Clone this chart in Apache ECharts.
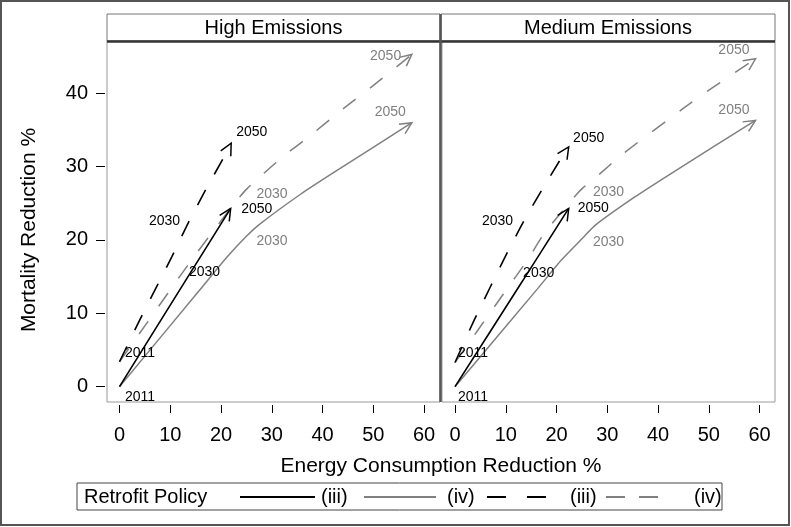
<!DOCTYPE html>
<html>
<head>
<meta charset="utf-8">
<script src="https://cdn.jsdelivr.net/npm/echarts@6/dist/echarts.min.js"></script>
<style>
  html, body { margin: 0; padding: 0; background: #fff; }
  #chart { width: 791px; height: 527px; }
</style>
</head>
<body>
<div id="chart"></div>
<script>
// ---- data: [energy reduction %, mortality reduction %] ----
var panelTitles = ['High Emissions', 'Medium Emissions'];
var years = ['2011', '2030', '2050'];
var xTicks = [0, 10, 20, 30, 40, 50, 60];
var yTicks = [0, 10, 20, 30, 40];
var legendLabels = ['(iii)', '(iv)', '(iii)', '(iv)'];

var highSolidIii = [[0, 0], [13.5, 15.0], [21.9, 24.3]];
var highSolidIv = [[0, 0], [15.6, 13.0], [21.1, 17.6], [25, 20.5], [27.7, 22.2], [35.6, 26.2], [42, 29.1], [57.6, 36.0]];
var highDashIii = [[0, 3.4], [4, 9.1], [10.3, 17.7], [13.6, 22.4], [17.1, 27.0], [20.5, 31.2], [22, 33.2]];
var highDashIv = [[0, 3.4], [5.1, 8.4], [13.5, 16.6], [18, 20.8], [23.1, 25.4], [25, 26.9], [27, 28.2], [32.6, 31.6], [36.8, 33.8], [43.9, 37.8], [49.9, 41.0], [57.6, 45.3]];

var medSolidIii = [[0, 0], [13.3, 14.4], [22.4, 24.3]];
var medSolidIv = [[0, 0], [16.2, 13.3], [21, 17.3], [25.2, 20.3], [27.6, 22.0], [35.5, 25.9], [43.1, 29.3], [59.2, 36.3]];
var medDashIii = [[0, 3.3], [3.8, 9.1], [10.1, 18.0], [13.5, 22.5], [17.1, 26.8], [20.7, 30.9], [22.4, 32.7]];
var medDashIv = [[0, 3.3], [4.6, 7.8], [9.5, 12.6], [14.3, 17.3], [17.6, 20.9], [23.4, 25.8], [25.2, 27.1], [27.5, 28.4], [33, 31.7], [44.7, 37.8], [50.6, 40.7], [59.2, 44.7]];

// index of the 2011 / 2030 / 2050 point in each path
var highYearAt = { solidIii: [0, 1, 2], solidIv: [0, 3, 7], dashIii: [0, 3, 6], dashIv: [0, 5, 11] };
var medYearAt = { solidIii: [0, 1, 2], solidIv: [0, 3, 7], dashIii: [0, 3, 6], dashIv: [0, 6, 11] };

// ---- styling ----
var FONT = "'Liberation Sans', Arial, sans-serif";
var GRAY = '#808080';
var styles = {
  solidIv: { name: 'iv solid', color: GRAY, type: 'solid', width: 1.5 },
  dashIv: { name: 'iv dash', color: GRAY, type: [16, 18], width: 1.5 },
  solidIii: { name: 'iii solid', color: '#000', type: 'solid', width: 1.6 },
  dashIii: { name: 'iii dash', color: '#000', type: [17, 18], width: 1.6 }
};
var order = ['solidIv', 'dashIv', 'solidIii', 'dashIii'];

// year label offsets in px from the point: [dx, dy, align]
var highLabelPos = {
  solidIii: [[5.5, 10.3, 'left'], [1, -5, 'left'], [10.5, 1, 'left']],
  dashIii: [[5.5, -9, 'left'], [-8.5, -1.5, 'right'], [5, -11.5, 'left']],
  solidIv: [null, [10, 4.5, 'left'], [-6, -10, 'right']],
  dashIv: [null, [10, 4.5, 'left'], [-10.7, 2, 'right']]
};
var medLabelPos = {
  solidIii: [[3, 10, 'left'], [0.6, -8, 'left'], [9, 0, 'left']],
  dashIii: [[3, -9.5, 'left'], [-10.4, -1, 'right'], [4.4, -9, 'left']],
  solidIv: [null, [10, 4.5, 'left'], [-6, -10, 'right']],
  dashIv: [null, [10, 4.5, 'left'], [-6, -9, 'right']]
};

var panels = [
  { lines: { solidIii: highSolidIii, solidIv: highSolidIv, dashIii: highDashIii, dashIv: highDashIv }, yearAt: highYearAt, labelPos: highLabelPos },
  { lines: { solidIii: medSolidIii, solidIv: medSolidIv, dashIii: medDashIii, dashIv: medDashIv }, yearAt: medYearAt, labelPos: medLabelPos }
];

function markSeries(path, yearAt, labelPos, color, gi) {
  var pts = yearAt.map(function (i) { return path[i]; });
  return {
    type: 'custom',
    xAxisIndex: gi,
    yAxisIndex: gi,
    silent: true,
    z: 5,
    encode: { x: 0, y: 1 },
    data: pts,
    renderItem: function (params, api) {
      var k = params.dataIndex;
      var p = api.coord([api.value(0), api.value(1)]);
      var kids = [];
      var lp = labelPos[k];
      if (lp) {
        kids.push({
          type: 'text',
          x: p[0] + lp[0], y: p[1] + lp[1],
          style: { text: years[k], fill: color, font: '14px ' + FONT, align: lp[2], verticalAlign: 'middle' }
        });
      }
      if (k === pts.length - 1) {
        var q = api.coord(path[path.length - 2]);
        var ang = Math.atan2(p[1] - q[1], p[0] - q[0]);
        var L = 13, h = 0.45;
        kids.push({
          type: 'polyline',
          shape: { points: [
            [p[0] - L * Math.cos(ang - h), p[1] - L * Math.sin(ang - h)],
            [p[0], p[1]],
            [p[0] - L * Math.cos(ang + h), p[1] - L * Math.sin(ang + h)]
          ] },
          style: { stroke: color, lineWidth: 1.5, fill: null }
        });
      }
      return { type: 'group', children: kids };
    }
  };
}

var series = [];
panels.forEach(function (pn, gi) {
  order.forEach(function (key) {
    var st = styles[key];
    series.push({
      name: st.name,
      type: 'line',
      xAxisIndex: gi,
      yAxisIndex: gi,
      data: pn.lines[key],
      smooth: 0.2,
      symbol: 'none',
      clip: false,
      z: 3,
      lineStyle: { color: st.color, type: st.type, width: st.width },
      itemStyle: { color: st.color }
    });
  });
  order.forEach(function (key) {
    series.push(markSeries(pn.lines[key], pn.yearAt[key], pn.labelPos[key], styles[key].color, gi));
  });
});

var gridTop = 41, gridH = 361, gridW = 333;
var xMin = [-2.46, -2.56];

function xAxis(gi) {
  return {
    type: 'value', gridIndex: gi, min: xMin[gi], max: xMin[gi] + 65.6,
    offset: 3,
    axisLine: { show: false, onZero: false },
    splitLine: { show: false },
    axisTick: { show: true, customValues: xTicks, length: 8, lineStyle: { color: '#000', width: 1 } },
    axisLabel: { customValues: xTicks, margin: 20, fontSize: 20, color: '#000', fontFamily: FONT }
  };
}

function legendItem(name, left, width, textPad, dash) {
  var lg = {
    data: [name], left: left, top: 487, padding: 0,
    itemWidth: width, itemHeight: 14, selectedMode: false,
    itemStyle: { color: 'rgba(0,0,0,0)', borderWidth: 0, opacity: 0 },
    formatter: function (n) { return legendLabels[['iii solid', 'iv solid', 'iii dash', 'iv dash'].indexOf(n)]; },
    textStyle: { fontSize: 20, fontFamily: FONT, color: '#000', padding: [0, 0, 0, textPad] }
  };
  if (dash) lg.lineStyle = { type: dash };
  return lg;
}

var chart = echarts.init(document.getElementById('chart'), null, { renderer: 'canvas' });
chart.setOption({
  animation: false,
  backgroundColor: '#fff',
  grid: [
    { left: 107, top: gridTop, width: gridW, height: gridH, show: true, borderColor: '#999', borderWidth: 1 },
    { left: 442, top: gridTop, width: gridW, height: gridH, show: true, borderColor: '#999', borderWidth: 1 }
  ],
  xAxis: [xAxis(0), xAxis(1)],
  yAxis: [
    {
      type: 'value', gridIndex: 0, min: -2.09, max: 47.13, offset: 2,
      axisLine: { show: false, onZero: false },
      splitLine: { show: false },
      axisTick: { show: true, customValues: yTicks, length: 9, lineStyle: { color: '#000', width: 1 } },
      axisLabel: { customValues: yTicks, margin: 17, fontSize: 20, color: '#000', fontFamily: FONT }
    },
    { type: 'value', gridIndex: 1, min: -2.09, max: 47.13, show: false }
  ],
  legend: [
    legendItem('iii solid', 239, 75, 1, null),
    legendItem('iv solid', 363, 72, 6, null),
    legendItem('iii dash', 486, 59, 19, [19, 21]),
    legendItem('iv dash', 605, 52, 31, [19, 14])
  ],
  graphic: [
    { type: 'rect', z: 100, shape: { x: 1, y: 1, width: 788, height: 524 }, style: { fill: null, stroke: '#555', lineWidth: 2 } },
    { type: 'rect', z: 100, shape: { x: 107, y: 14, width: 333, height: 27 }, style: { fill: '#fff', stroke: '#777', lineWidth: 1 } },
    { type: 'rect', z: 100, shape: { x: 441, y: 14, width: 334, height: 27 }, style: { fill: '#fff', stroke: '#777', lineWidth: 1 } },
    { type: 'text', z: 101, x: 273.5, y: 28, style: { text: panelTitles[0], font: '20px ' + FONT, fill: '#000', align: 'center', verticalAlign: 'middle' } },
    { type: 'text', z: 101, x: 608, y: 28, style: { text: panelTitles[1], font: '20px ' + FONT, fill: '#000', align: 'center', verticalAlign: 'middle' } },
    { type: 'line', z: 100, shape: { x1: 107, y1: 41.5, x2: 775, y2: 41.5 }, style: { stroke: '#333', lineWidth: 2.5 } },
    { type: 'line', z: 100, shape: { x1: 440.5, y1: 14, x2: 440.5, y2: 402 }, style: { stroke: '#555', lineWidth: 2.5 } },
    { type: 'text', z: 100, x: 29, y: 230, rotation: Math.PI / 2, style: { text: 'Mortality Reduction %', font: '21px ' + FONT, fill: '#000', align: 'center', verticalAlign: 'middle' } },
    { type: 'text', z: 100, x: 441, y: 466, style: { text: 'Energy Consumption Reduction %', font: '21px ' + FONT, fill: '#000', align: 'center', verticalAlign: 'middle' } },
    { type: 'rect', z: 100, shape: { x: 77, y: 483, width: 645, height: 27 }, style: { fill: null, stroke: '#444', lineWidth: 1 } },
    { type: 'text', z: 100, x: 84, y: 497, style: { text: 'Retrofit Policy', font: '20px ' + FONT, fill: '#000', align: 'left', verticalAlign: 'middle' } }
  ],
  series: series
});
</script>
</body>
</html>
